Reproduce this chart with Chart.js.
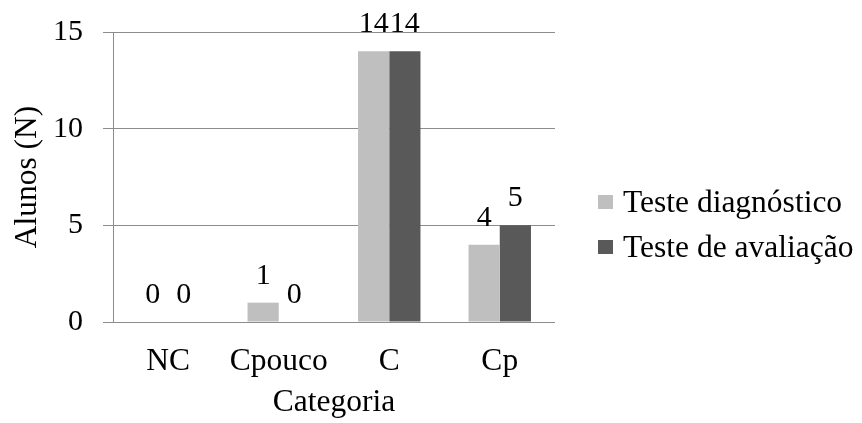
<!DOCTYPE html>
<html>
<head>
<meta charset="utf-8">
<script src="https://cdn.jsdelivr.net/npm/chart.js@4/dist/chart.umd.min.js"></script>
<style>
  html, body { margin: 0; padding: 0; background: #ffffff; }
  #wrap { width: 862px; height: 423px; }
</style>
</head>
<body>
<div id="wrap"><canvas id="c" width="862" height="423"></canvas></div>
<script>
// Number of students per category, before and after the unit
const categories = ['NC', 'Cpouco', 'C', 'Cp'];
const diagnostico = [0, 1, 14, 4];
const avaliacao = [0, 0, 14, 5];
const seriesNames = ['Teste diagnóstico', 'Teste de avaliação'];
const yTicks = [0, 5, 10, 15];

const FONT = 'Liberation Serif';
const TEXT_SIZE = 31.5;   // words: categories, titles, legend
const NUM_SIZE = 30;      // numbers: ticks and bar values
const GRID = '#8c8c8c';
const colors = ['#bfbfbf', '#595959'];

// Value printed above each bar
const valueLabels = {
  id: 'valueLabels',
  afterDatasetsDraw(chart) {
    const ctx = chart.ctx;
    ctx.save();
    ctx.font = NUM_SIZE + 'px ' + FONT;
    ctx.fillStyle = '#000';
    ctx.textAlign = 'center';
    ctx.textBaseline = 'alphabetic';
    chart.data.datasets.forEach((ds, i) => {
      chart.getDatasetMeta(i).data.forEach((bar, j) => {
        ctx.fillText(String(ds.data[j]), bar.x, bar.y - 19);
      });
    });
    ctx.restore();
  }
};

// Legend on the right-hand side
const sideLegend = {
  id: 'sideLegend',
  afterDraw(chart) {
    const ctx = chart.ctx;
    ctx.save();
    ctx.font = TEXT_SIZE + 'px ' + FONT;
    ctx.textBaseline = 'alphabetic';
    ctx.textAlign = 'left';
    chart.data.datasets.forEach((ds, i) => {
      const base = 212 + i * 45;
      ctx.fillStyle = ds.backgroundColor;
      ctx.fillRect(598, base - 17, 15, 14);
      ctx.fillStyle = '#000';
      ctx.fillText(ds.label, 623, base);
    });
    ctx.restore();
  }
};

new Chart(document.getElementById('c'), {
  type: 'bar',
  data: {
    labels: categories,
    datasets: [
      { label: seriesNames[0], data: diagnostico, backgroundColor: colors[0] },
      { label: seriesNames[1], data: avaliacao, backgroundColor: colors[1] }
    ]
  },
  options: {
    responsive: false,
    animation: false,
    devicePixelRatio: 1,
    layout: { padding: { top: 32, right: 307, bottom: 0, left: 0 } },
    datasets: { bar: { categoryPercentage: 0.565, barPercentage: 1.0 } },
    plugins: { legend: { display: false }, tooltip: { enabled: false } },
    scales: {
      x: {
        grid: { display: false },
        border: { display: false },
        ticks: { color: '#000', font: { family: FONT, size: TEXT_SIZE }, padding: 13, maxRotation: 0 },
        title: { display: true, text: 'Categoria', color: '#000', font: { family: FONT, size: TEXT_SIZE }, padding: { top: 0, bottom: 1 } },
        afterFit(s) { s.height = 101; s.paddingLeft = 0; s.paddingRight = 0; }
      },
      y: {
        min: 0,
        max: 15,
        afterBuildTicks(s) { s.ticks = yTicks.map(v => ({ value: v })); },
        grid: { color: GRID, lineWidth: 1, tickLength: 10 },
        border: { display: true, color: GRID, width: 1 },
        ticks: { color: '#000', font: { family: FONT, size: NUM_SIZE }, padding: 20 },
        title: { display: true, text: 'Alunos (N)', color: '#000', font: { family: FONT, size: TEXT_SIZE }, padding: { top: 9, bottom: 0 } },
        afterFit(s) { s.width = 113; s.paddingTop = 0; s.paddingBottom = 0; }
      }
    }
  },
  plugins: [valueLabels, sideLegend]
});
</script>
</body>
</html>
